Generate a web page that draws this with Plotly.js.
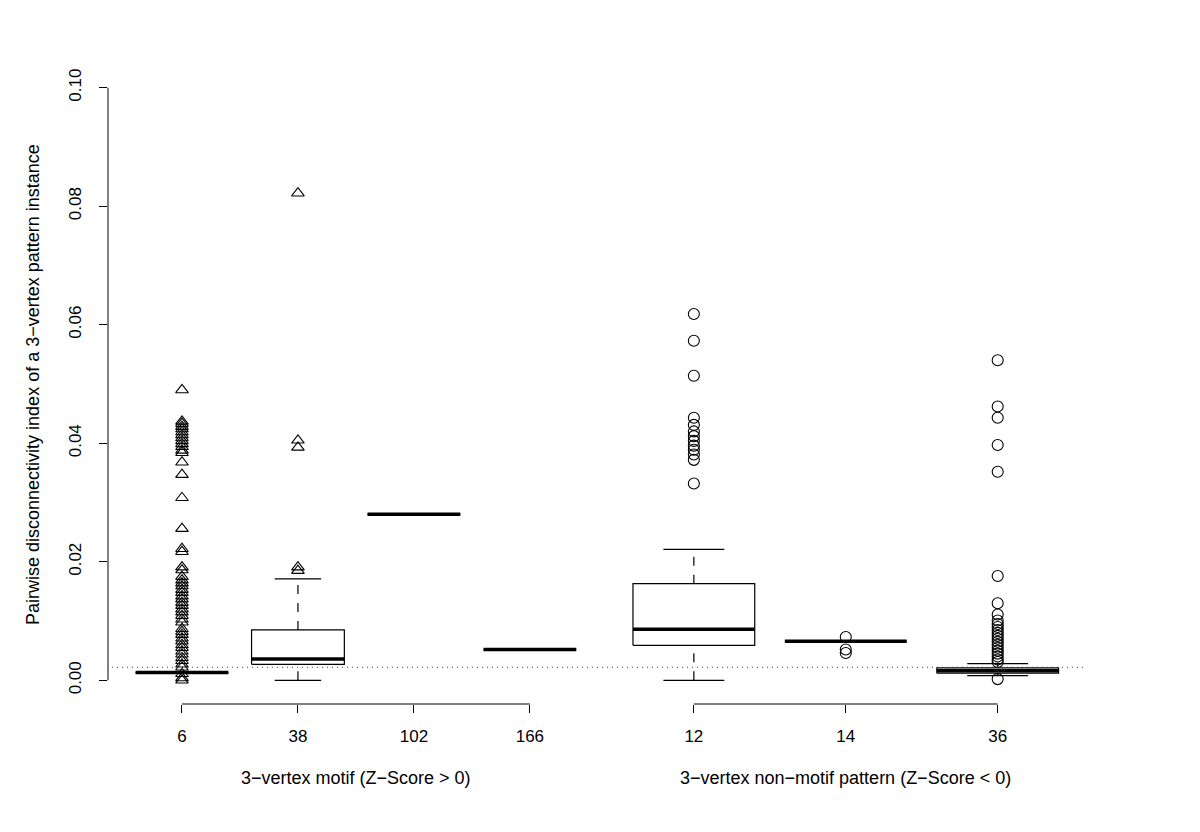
<!DOCTYPE html>
<html lang="en">
<head>
<meta charset="utf-8">
<title>Pairwise disconnectivity index</title>
<script src="https://cdn.plot.ly/plotly-3.0.1.min.js"></script>
<style>
body{margin:0;background:#fff;}
#graph{width:1200px;height:832px;}
</style>
</head>
<body>
<div id="graph"></div>
<script>
// pattern ids, first four are motifs, last three non-motifs
var labels = ['6','38','102','166','12','14','36'];

// box stats
var lowW  = [0.0013, 0.0000, 0.0280, 0.0052, 0.0000, 0.0066, 0.0008];
var q1    = [0.0013, 0.0027, 0.0280, 0.0052, 0.0059, 0.0066, 0.0012];
var med   = [0.0013, 0.0036, 0.0280, 0.0052, 0.0086, 0.0066, 0.0016];
var q3    = [0.0013, 0.0085, 0.0280, 0.0052, 0.0163, 0.0066, 0.0021];
var highW = [0.0013, 0.0171, 0.0280, 0.0052, 0.0221, 0.0066, 0.0028];

// outliers
var out6 = [0.0490, 0.0437, 0.0433, 0.0428, 0.0424, 0.0419, 0.0414, 0.0409, 0.0404, 0.0399,
  0.0394, 0.0388, 0.0384, 0.0368, 0.0347, 0.0308, 0.0256, 0.0222, 0.0217, 0.0191, 0.0186,
  0.0175, 0.0169, 0.0164, 0.0159, 0.0153, 0.0148, 0.0142, 0.0137, 0.0131, 0.0126, 0.0120,
  0.0115, 0.0109, 0.0103, 0.0098, 0.0087, 0.0082, 0.0077, 0.0071, 0.0066, 0.0060, 0.0055,
  0.0049, 0.0044, 0.0038, 0.0033, 0.0027, 0.0022, 0.0011, 0.0004, 0.0000];
var out38 = [0.0822, 0.0405, 0.0393, 0.0191, 0.0185];
var out12 = [0.0618, 0.0573, 0.0514, 0.0443, 0.0431, 0.0420, 0.0412, 0.0404, 0.0396, 0.0389,
  0.0381, 0.0372, 0.0332];
var out14 = [0.0073, 0.0052, 0.0046];
var out36 = [0.0540, 0.0462, 0.0443, 0.0397, 0.0352, 0.0176, 0.0130, 0.0111, 0.0101, 0.0095,
  0.0090, 0.0085, 0.0080, 0.0075, 0.0070, 0.0065, 0.0060, 0.0055, 0.0050, 0.0045, 0.0040,
  0.0035, 0.0031, 0.0002];

var groupTitles = ['3\u2212vertex motif (Z\u2212Score > 0)', '3\u2212vertex non\u2212motif pattern (Z\u2212Score < 0)'];
var yTitle = 'Pairwise disconnectivity index of a 3\u2212vertex pattern instance';
var refLine = 0.0022;
var yTicks = [0, 0.02, 0.04, 0.06, 0.08, 0.10];

// where the boxes sit on the x axis and how wide they are
var pos  = [1, 2, 3, 4, 5.414, 6.724, 8.034];
var boxW = [0.8, 0.8, 0.8, 0.8, 1.05, 1.05, 1.05];

var tickFnt = {family: 'Liberation Sans, Arial, sans-serif', size: 17, color: '#000'};
var titleFnt = {family: 'Liberation Sans, Arial, sans-serif', size: 18, color: '#000'};

var bx=[],by=[],mx=[],my=[],wx=[],wy=[],sx=[],sy=[];
for (var i=0;i<labels.length;i++){
  var c=pos[i], h=boxW[i]/2;
  bx.push(c-h,c+h,c+h,c-h,c-h,null); by.push(q1[i],q1[i],q3[i],q3[i],q1[i],null);
  mx.push(c-h,c+h,null); my.push(med[i],med[i],null);
  wx.push(c,c,null,c,c,null); wy.push(q3[i],highW[i],null,lowW[i],q1[i],null);
  sx.push(c-h/2,c+h/2,null,c-h/2,c+h/2,null); sy.push(highW[i],highW[i],null,lowW[i],lowW[i],null);
}

function rep(v,n){ var a=[]; for(var k=0;k<n;k++) a.push(v); return a; }

var triX = rep(pos[0], out6.length).concat(rep(pos[1], out38.length));
var triY = out6.concat(out38);
var cirX = rep(pos[4], out12.length).concat(rep(pos[5], out14.length), rep(pos[6], out36.length));
var cirY = out12.concat(out14, out36);

var traces = [
  {x: wx, y: wy, mode: 'lines', line: {color: '#000', width: 1.2, dash: 'dash'}},
  {x: sx, y: sy, mode: 'lines', line: {color: '#000', width: 1.2}},
  {x: bx, y: by, mode: 'lines', line: {color: '#000', width: 1.2}},
  {x: mx, y: my, mode: 'lines', line: {color: '#000', width: 3.5}},
  {x: triX, y: triY, mode: 'markers', marker: {symbol: 'triangle-up-open', size: 11, color: '#000', line: {width: 1.1}}},
  {x: cirX, y: cirY, mode: 'markers', marker: {symbol: 'circle-open', size: 11, color: '#000', line: {width: 1.1}}}
];

var layout = {
  width: 1200, height: 832,
  margin: {l: 108, r: 110, t: 64, b: 128},
  paper_bgcolor: '#fff', plot_bgcolor: '#fff',
  showlegend: false, hovermode: false,
  font: tickFnt,
  xaxis: {
    range: [0.362, 8.83], tickvals: pos, ticktext: labels,
    showline: false, showgrid: false, zeroline: false,
    ticks: 'outside', ticklen: 8, tickwidth: 1, tickcolor: '#000',
    ticklabelstandoff: 9, tickfont: tickFnt
  },
  yaxis: {
    range: [-0.004, 0.104], tickvals: yTicks, tickformat: '.2f', tickangle: -90,
    showline: false, showgrid: false, zeroline: false,
    ticks: 'outside', ticklen: 8, tickwidth: 1, tickcolor: '#000',
    ticklabelstandoff: 11, tickfont: tickFnt
  },
  shapes: [
    {type: 'line', xref: 'paper', x0: 0, x1: 0, yref: 'y', y0: yTicks[0], y1: yTicks[yTicks.length-1], line: {color: '#000', width: 1}},
    {type: 'line', xref: 'x', x0: pos[0], x1: pos[3], yref: 'paper', y0: 0, y1: 0, line: {color: '#000', width: 1}},
    {type: 'line', xref: 'x', x0: pos[4], x1: pos[6], yref: 'paper', y0: 0, y1: 0, line: {color: '#000', width: 1}},
    {type: 'line', xref: 'paper', x0: 0.004, x1: 0.996, yref: 'y', y0: refLine, y1: refLine, line: {color: '#333', width: 1, dash: '1px,4px'}}
  ],
  annotations: [
    {text: groupTitles[0], xref: 'x', x: (pos[0]+pos[3])/2, yref: 'paper', y: -0.116, xanchor: 'center', yanchor: 'middle', showarrow: false, font: titleFnt},
    {text: groupTitles[1], xref: 'x', x: (pos[4]+pos[6])/2, yref: 'paper', y: -0.116, xanchor: 'center', yanchor: 'middle', showarrow: false, font: titleFnt},
    {text: yTitle, xref: 'paper', x: -0.0764, yref: 'y', y: 0.05, textangle: -90, xanchor: 'center', yanchor: 'middle', showarrow: false, font: titleFnt}
  ]
};

Plotly.newPlot('graph', traces, layout, {staticPlot: true, displayModeBar: false});
</script>
</body>
</html>
